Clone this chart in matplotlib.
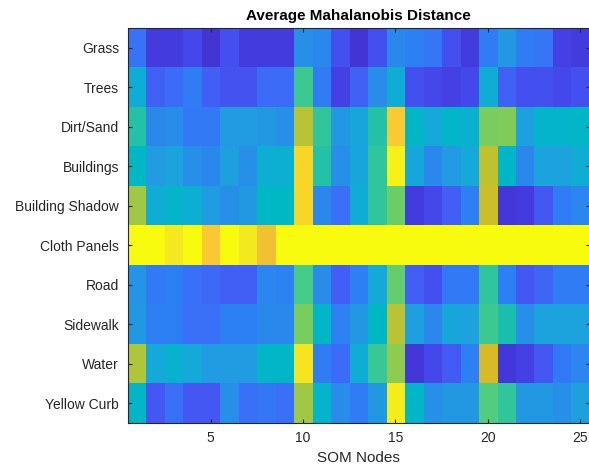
import matplotlib
matplotlib.use('Agg')
import matplotlib.pyplot as plt
import numpy as np
from matplotlib.colors import LinearSegmentedColormap

plt.rcParams['font.family'] = ['Liberation Sans', 'DejaVu Sans']

# ==== data ====
classes = ['Grass', 'Trees', 'Dirt/Sand', 'Buildings', 'Building Shadow',
           'Cloth Panels', 'Road', 'Sidewalk', 'Water', 'Yellow Curb']
nodes = np.arange(1, 26)

grass = [0.23, 0.08, 0.08, 0.11, 0.06, 0.13, 0.08, 0.08, 0.08, 0.32, 0.30, 0.13, 0.06,
         0.13, 0.30, 0.27, 0.24, 0.13, 0.08, 0.26, 0.34, 0.26, 0.24, 0.09, 0.08]
trees = [0.40, 0.18, 0.21, 0.26, 0.17, 0.14, 0.14, 0.21, 0.21, 0.53, 0.26, 0.09, 0.18,
         0.31, 0.40, 0.13, 0.11, 0.09, 0.11, 0.40, 0.18, 0.13, 0.13, 0.11, 0.13]
dirt = [0.49, 0.30, 0.31, 0.25, 0.25, 0.35, 0.35, 0.34, 0.32, 0.73, 0.51, 0.34, 0.38,
        0.49, 0.87, 0.44, 0.39, 0.44, 0.42, 0.63, 0.64, 0.36, 0.43, 0.43, 0.44]
buildings = [0.45, 0.35, 0.37, 0.32, 0.30, 0.36, 0.32, 0.41, 0.41, 0.90, 0.49, 0.32, 0.38,
             0.51, 0.98, 0.38, 0.30, 0.35, 0.39, 0.74, 0.44, 0.30, 0.37, 0.37, 0.40]
shadow = [0.68, 0.40, 0.43, 0.41, 0.35, 0.32, 0.34, 0.45, 0.45, 0.90, 0.30, 0.22, 0.40,
          0.51, 0.61, 0.08, 0.11, 0.17, 0.27, 0.76, 0.07, 0.08, 0.15, 0.26, 0.29]
cloth = [1.00, 1.00, 0.96, 1.00, 0.86, 1.00, 0.96, 0.83, 1.00, 1.00, 1.00, 1.00, 1.00,
         1.00, 1.00, 1.00, 1.00, 1.00, 1.00, 1.00, 1.00, 1.00, 1.00, 1.00, 1.00]
road = [0.33, 0.25, 0.27, 0.22, 0.20, 0.17, 0.17, 0.29, 0.28, 0.55, 0.31, 0.17, 0.27,
        0.39, 0.60, 0.17, 0.13, 0.25, 0.25, 0.51, 0.27, 0.15, 0.19, 0.26, 0.26]
sidewalk = [0.34, 0.27, 0.27, 0.22, 0.22, 0.27, 0.27, 0.30, 0.30, 0.63, 0.44, 0.28, 0.34,
            0.45, 0.73, 0.36, 0.30, 0.38, 0.37, 0.53, 0.48, 0.32, 0.37, 0.37, 0.37]
water = [0.71, 0.39, 0.42, 0.39, 0.35, 0.35, 0.35, 0.44, 0.44, 0.95, 0.26, 0.21, 0.40,
         0.52, 0.66, 0.07, 0.11, 0.16, 0.27, 0.78, 0.07, 0.09, 0.15, 0.25, 0.29]
curb = [0.44, 0.15, 0.22, 0.15, 0.15, 0.32, 0.22, 0.24, 0.22, 0.68, 0.43, 0.31, 0.26,
        0.34, 0.97, 0.44, 0.32, 0.34, 0.34, 0.57, 0.51, 0.34, 0.34, 0.32, 0.36]

dist = np.array([grass, trees, dirt, buildings, shadow, cloth, road, sidewalk, water, curb])

# ==== parula-like colormap ====
anchors = [(0.00, '#3E26A8'), (0.07, '#4438DC'), (0.10, '#4444E8'), (0.15, '#4458F4'),
           (0.22, '#3A70F8'), (0.27, '#2E80F4'), (0.32, '#2890E8'), (0.37, '#1CA4DE'),
           (0.42, '#08B2CE'), (0.45, '#00B8C4'), (0.50, '#2CC4A0'), (0.55, '#48CC88'),
           (0.62, '#70CE64'), (0.68, '#A0C848'), (0.74, '#C0C230'), (0.78, '#D8BA28'),
           (0.85, '#FCC436'), (0.90, '#F8D628'), (0.96, '#F4E820'), (1.00, '#F9FB0E')]
parula = LinearSegmentedColormap.from_list('parula', anchors)

# ==== plotting ====
fig = plt.figure(figsize=(5.89, 4.75), dpi=100)
ax = fig.add_axes([127.5 / 589, 1 - 423 / 475, 462 / 589, 395 / 475])
ax.imshow(dist, cmap=parula, vmin=0, vmax=1, aspect='auto', interpolation='nearest',
          extent=[0.5, 25.5, len(classes) + 0.5, 0.5])

ax.set_xticks([5, 10, 15, 20, 25])
ax.set_yticks(np.arange(1, len(classes) + 1))
ax.set_yticklabels(classes)
ax.tick_params(direction='in', top=True, right=True, length=3, width=0.8,
               colors='#262626', labelsize=10, pad=6)
for s in ax.spines.values():
    s.set_color('#262626')
    s.set_linewidth(0.8)

ax.set_title('Average Mahalanobis Distance', fontsize=11, fontweight='bold', pad=6)
ax.set_xlabel('SOM Nodes', fontsize=11, color='#262626', labelpad=4)

fig.savefig('out.png', dpi=100)
